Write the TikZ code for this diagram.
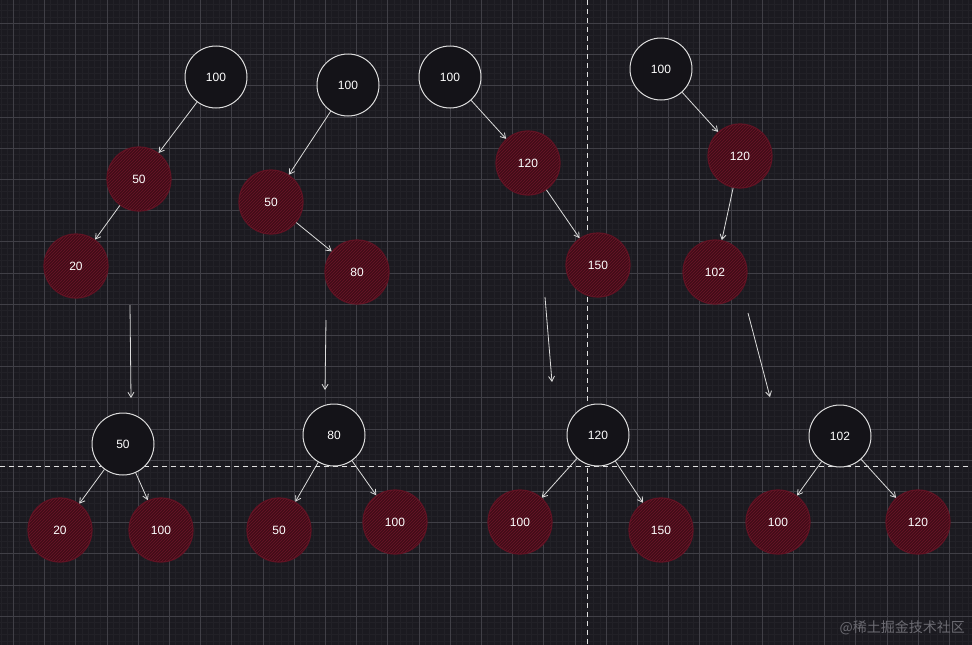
\documentclass[tikz,border=0pt]{standalone}
\usepackage{fontspec}
\setmainfont{Liberation Sans}
\newfontfamily\cjk{Noto Sans CJK SC}
\usetikzlibrary{arrows.meta,patterns}
\definecolor{bg}{HTML}{1B1A20}
\definecolor{minorg}{HTML}{222127}
\definecolor{majorg}{HTML}{403F46}
\definecolor{wline}{HTML}{DCDCDC}
\definecolor{rfill}{HTML}{420C18}
\definecolor{rdraw}{HTML}{5E1222}
\definecolor{rhatch}{HTML}{6A1628}
\definecolor{bfill}{HTML}{141318}
\definecolor{wm}{HTML}{6C6B72}
\tikzset{
  wnode/.style={circle, minimum size=62pt, inner sep=0pt, draw=wline, line width=1pt, fill=bfill, text=white, font=\fontsize{12}{12}\selectfont},
  rnode/.style={circle, minimum size=64pt, inner sep=0pt, draw=rdraw, line width=1.2pt, fill=rfill, text=white, font=\fontsize{12}{12}\selectfont,
     postaction={pattern=north east lines, pattern color=rhatch}},
  edge/.style={draw=wline, line width=0.8pt, -{Straight Barb[length=5pt,width=6pt]}},
  dashline/.style={draw=wline!85, line width=1pt, dash pattern=on 5pt off 4pt},
}
\begin{document}
\begin{tikzpicture}[x=1pt,y=-1pt]
\fill[bg] (0,0) rectangle (972,645);
\useasboundingbox (0,0) rectangle (972,645);
% minor grid
\foreach \i in {-2,...,156} {
  \draw[minorg, line width=0.5pt] ({13.3+6.24*\i},0) -- ({13.3+6.24*\i},645);
}
\foreach \i in {-4,...,100} {
  \draw[minorg, line width=0.5pt] (0,{23.2+6.24*\i}) -- (972,{23.2+6.24*\i});
}
% major grid
\foreach \i in {0,...,31} {
  \draw[majorg, line width=0.6pt] ({13.3+31.2*\i},0) -- ({13.3+31.2*\i},645);
}
\foreach \i in {0,...,20} {
  \draw[majorg, line width=0.6pt] (0,{23.2+31.2*\i}) -- (972,{23.2+31.2*\i});
}
% dashed axes
\draw[dashline] (587,0) -- (587,645);
\draw[dashline] (0,466) -- (972,466);

% ---- top trees ----
\node[wnode] (a1) at (216,77) {100};
\node[rnode] (a2) at (139,179) {50};
\node[rnode] (a3) at (76,266) {20};
\draw[edge] (a1) -- (a2);
\draw[edge] (a2) -- (a3);

\node[wnode] (b1) at (348,85) {100};
\node[rnode] (b2) at (271,202) {50};
\node[rnode] (b3) at (357,272) {80};
\draw[edge] (b1) -- (b2);
\draw[edge] (b2) -- (b3);

\node[wnode] (c1) at (450,77) {100};
\node[rnode] (c2) at (528,163) {120};
\node[rnode] (c3) at (598,265) {150};
\draw[edge] (c1) -- (c2);
\draw[edge] (c2) -- (c3);

\node[wnode] (d1) at (661,69) {100};
\node[rnode] (d2) at (740,156) {120};
\node[rnode] (d3) at (715,272) {102};
\draw[edge] (d1) -- (d2);
\draw[edge] (d2) -- (d3);

% ---- transition arrows ----
\coordinate (s1) at (130,305); \coordinate (e1) at (131,398);
\coordinate (s2) at (326,320); \coordinate (e2) at (325,390);
\coordinate (s3) at (545,297); \coordinate (e3) at (552,382);
\coordinate (s4) at (748,313); \coordinate (e4) at (770,397);
\draw[edge] (s1) -- (e1);
\draw[edge] (s2) -- (e2);
\draw[edge] (s3) -- (e3);
\draw[edge] (s4) -- (e4);

% ---- bottom trees ----
\node[wnode] (p1) at (123,444) {50};
\node[rnode] (p2) at (60,530) {20};
\node[rnode] (p3) at (161,530) {100};
\draw[edge] (p1) -- (p2);
\draw[edge] (p1) -- (p3);

\node[wnode] (q1) at (334,435) {80};
\node[rnode] (q2) at (279,530) {50};
\node[rnode] (q3) at (395,522) {100};
\draw[edge] (q1) -- (q2);
\draw[edge] (q1) -- (q3);

\node[wnode] (r1) at (598,435) {120};
\node[rnode] (r2) at (520,522) {100};
\node[rnode] (r3) at (661,530) {150};
\draw[edge] (r1) -- (r2);
\draw[edge] (r1) -- (r3);

\node[wnode] (t1) at (840,436) {102};
\node[rnode] (t2) at (778,522) {100};
\node[rnode] (t3) at (918,522) {120};
\draw[edge] (t1) -- (t2);
\draw[edge] (t1) -- (t3);

% watermark
\node[anchor=east, text=wm, font=\cjk\fontsize{14}{14}\selectfont, inner sep=0pt] (wmark) at (965,628) {@稀土掘金技术社区};
\end{tikzpicture}
\end{document}
